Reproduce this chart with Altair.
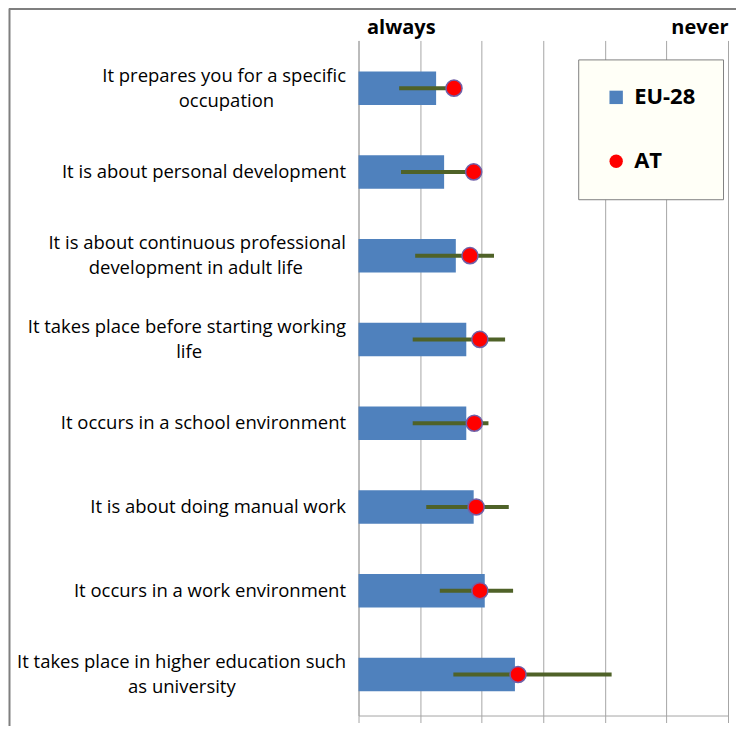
import altair as alt
import pandas as pd

# ---- data ----
statements = [
    "It prepares you for a specific\noccupation",
    "It is about personal development",
    "It is about continuous professional\ndevelopment in adult life",
    "It takes place before starting working\nlife",
    "It occurs in a school environment",
    "It is about doing manual work",
    "It occurs in a work environment",
    "It takes place in higher education such\nas university",
]
eu28 = [1.26, 1.39, 1.58, 1.75, 1.75, 1.87, 2.05, 2.54]
at = [1.55, 1.87, 1.81, 1.97, 1.88, 1.91, 1.97, 2.59]
at_low = [0.66, 0.69, 0.92, 0.88, 0.88, 1.10, 1.32, 1.54]
at_high = [1.55, 1.87, 2.20, 2.38, 2.11, 2.44, 2.51, 4.11]
scale_ticks = [0, 1, 2, 3, 4, 5, 6]
end_labels = ["always", "never"]
series_names = ["EU-28", "AT"]

LABEL_SIZE = 18.5
LINE_H = 25
# approximate Open Sans advance widths (em) to centre wrapped label lines
_W = {" ": .26, "a": .556, "b": .613, "c": .488, "d": .613, "e": .561, "f": .339,
      "g": .548, "h": .614, "i": .253, "j": .253, "k": .525, "l": .253, "m": .93,
      "n": .614, "o": .604, "p": .613, "q": .613, "r": .408, "s": .477, "t": .353,
      "u": .614, "v": .501, "w": .778, "x": .524, "y": .502, "z": .477, "I": .285}


def _width(s):
    return sum(_W.get(ch, .56) for ch in s)


def centre_lines(label):
    # right-aligned labels: pad shorter lines with no-break spaces (kept from
    # trimming by a trailing word joiner) so every line is centred on the longest
    lines = label.split("\n")
    if len(lines) < 2:
        return label
    longest = max(_width(l) for l in lines)
    out = []
    for l in lines:
        pad = int(round((longest - _width(l)) / 2 / _W[" "]))
        out.append(l + ("\u00a0" * pad + "\u2060" if pad else ""))
    return "\n".join(out)


display = [centre_lines(s) for s in statements]

df = pd.DataFrame({
    "statement": display,
    "eu": eu28,
    "at": at,
    "lo": at_low,
    "hi": at_high,
})

xs = alt.Scale(domain=[scale_ticks[0], scale_ticks[-1]], nice=False, zero=True)
ys = alt.Scale(paddingInner=0.6, paddingOuter=0.33, align=0.56)

y_enc = alt.Y(
    "statement:N", sort=display, scale=ys, title=None,
    axis=alt.Axis(labelExpr="split(datum.label, '\\n')", labelFont="Open Sans",
                  labelFontSize=LABEL_SIZE, labelLineHeight=LINE_H, labelPadding=13,
                  labelLimit=400, ticks=False, domainColor="#a6a6a6",
                  labelColor="#000000", labelAlign="right",
                  labelOffset={"condition": {"test": "indexof(datum.label, '\\n') >= 0",
                                             "value": -LINE_H / 2},
                               "value": 0}))

legend = alt.Legend(title=None, orient="none", legendX=220, legendY=19, padding=27,
                    fillColor="#fffff7", strokeColor="#7f7f7f",
                    labelFont="Open Sans", labelFontWeight="bold", labelFontSize=22,
                    labelColor="#000000", symbolSize=180, rowPadding=42,
                    symbolStrokeWidth=0, labelOffset=7)

color = alt.Color("series:N",
                  scale=alt.Scale(domain=series_names, range=["#4f81bd", "#ff0000"]),
                  legend=legend)

base = alt.Chart(df)

bars = base.transform_calculate(series="'EU-28'").mark_bar().encode(
    x=alt.X("eu:Q", scale=xs, title=None,
            axis=alt.Axis(orient="bottom", values=scale_ticks, labels=False,
                          grid=True, gridColor="#a6a6a6", domainColor="#a6a6a6",
                          tickColor="#a6a6a6", tickSize=7)),
    y=y_enc,
    color=color,
)

rules = base.mark_rule(color="#4f6228", strokeWidth=4).encode(
    x=alt.X("lo:Q", scale=xs, title=None,
            axis=alt.Axis(orient="top", values=[scale_ticks[0], scale_ticks[-1]],
                          labelExpr=f"datum.value == {scale_ticks[0]} ? '{end_labels[0]}' : '{end_labels[1]}'",
                          labelFlush=True, domain=False, ticks=False, grid=False,
                          labelFont="Open Sans", labelFontWeight="bold",
                          labelFontSize=20, labelPadding=3, labelColor="#000000",
                          labelOffset={"condition": {"test": f"datum.value == {scale_ticks[0]}",
                                                     "value": 8},
                                       "value": 0})),
    x2="hi:Q",
    y=alt.Y("statement:N", sort=display, scale=ys),
)

points = base.transform_calculate(series="'AT'").mark_point(
    filled=True, size=260, stroke="#7060a8", strokeWidth=1.5, opacity=1).encode(
    x=alt.X("at:Q", scale=xs, axis=None),
    y=alt.Y("statement:N", sort=display, scale=ys),
    color=color,
    shape=alt.Shape("series:N",
                    scale=alt.Scale(domain=series_names, range=["square", "circle"]),
                    legend=legend),
)

one = pd.DataFrame({"k": [0]})
frame_top = alt.Chart(one).mark_rule(color="#7f7f7f", strokeWidth=2).encode(
    x=alt.value(-350), x2=alt.value(390), y=alt.value(-31.5))
frame_left = alt.Chart(one).mark_rule(color="#7f7f7f", strokeWidth=2).encode(
    x=alt.value(-349.5), y=alt.value(-32), y2=alt.value(700))

chart = alt.layer(bars, rules, points, frame_top, frame_left).resolve_axis(
    x="independent").properties(
    width=370, height=676,
    autosize=alt.AutoSizeParams(type="none"),
    padding={"left": 351, "top": 32, "right": 8, "bottom": 10},
).configure_view(stroke=None)

chart.save("out.html", embed_options={"renderer": "svg", "actions": False})
